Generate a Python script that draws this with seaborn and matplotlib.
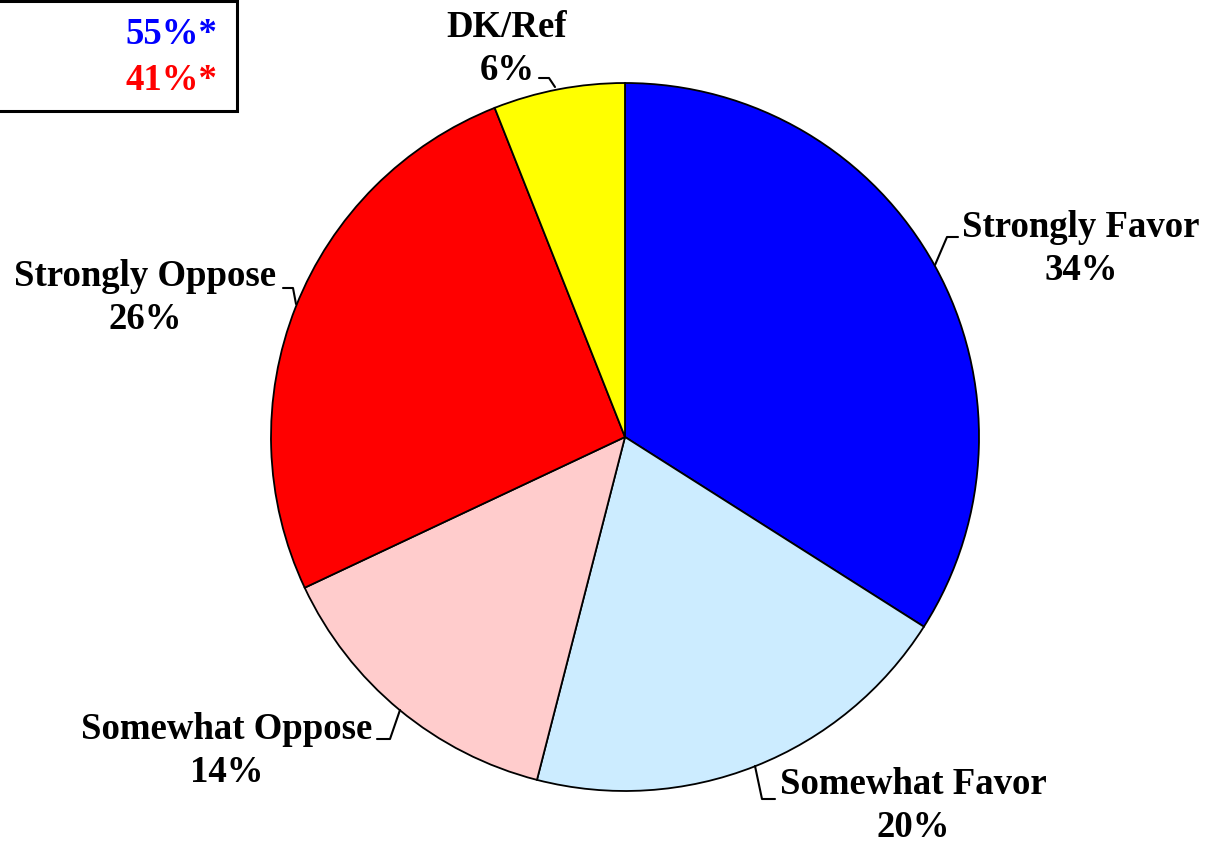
import matplotlib
matplotlib.use("Agg")
import matplotlib.pyplot as plt
import seaborn as sns
from matplotlib.patches import Rectangle

# data
categories = ["Strongly Favor", "Somewhat Favor", "Somewhat Oppose", "Strongly Oppose", "DK/Ref"]
shares = [34, 20, 14, 26, 6]
colors = ["#0000FF", "#CCECFF", "#FFCCCC", "#FF0000", "#FFFF00"]
totals = ["55%*", "41%*"]
total_colors = ["#0000FF", "#FF0000"]

sns.set_theme(style="white")
plt.rcParams["font.family"] = ["Liberation Serif", "DejaVu Serif"]

W, H = 1205, 845
fig = plt.figure(figsize=(W / 100, H / 100), dpi=100)
ax = fig.add_axes([0, 0, 1, 1])

# pie geometry in pixel space (y measured from bottom)
cx, cy, r = 625, H - 438, 354
ax.pie(shares, colors=colors, startangle=90, counterclock=False,
       center=(cx, cy), radius=r, frame=True,
       wedgeprops=dict(edgecolor="black", linewidth=1.3))
ax.set_xlim(0, W)
ax.set_ylim(0, H)
ax.set_aspect("equal")
ax.axis("off")

# label layout: text centre (px from top-left), leader polyline (px)
label_pos = [(1081, 249), (913, 806), (227, 751), (145, 298), (507, 49)]
leaders = [
    [(935, 266), (947, 238), (958, 238)],
    [(755, 767), (762, 800), (775, 800)],
    [(400, 711), (390, 740), (377, 740)],
    [(296, 305), (293, 289), (283, 289)],
    [(555, 88), (549, 79), (539, 79)],
]

for name, v, (tx, ty), pts in zip(categories, shares, label_pos, leaders):
    ax.text(tx, H - ty, f"{name}\n{v}%", ha="center", va="center",
            fontsize=26.5, fontweight="bold", linespacing=1.3, color="black")
    ax.plot([p[0] for p in pts], [H - p[1] for p in pts], color="black", lw=1.5)

# summary box at the top-left
ax.add_patch(Rectangle((-5, H - 112), 242, 110, facecolor="white",
                       edgecolor="black", lw=2.2, clip_on=False))
for i, (t, c) in enumerate(zip(totals, total_colors)):
    ax.text(217, H - (34 + 46 * i), t, ha="right", va="center",
            fontsize=26.5, fontweight="bold", color=c)

fig.savefig("out.png", dpi=100)
